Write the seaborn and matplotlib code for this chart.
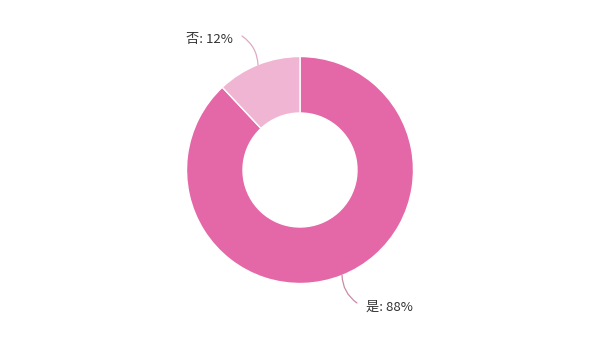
import matplotlib
matplotlib.use("Agg")
import matplotlib.pyplot as plt
import seaborn as sns

labels = ["是", "否"]
values = [88, 12]
colors = ["#E468A7", "#F0B5D3"]

sns.set_theme(style="white")
plt.rcParams['font.family'] = ['Noto Sans CJK SC', 'DejaVu Sans']

fig = plt.figure(figsize=(6, 3.4), dpi=100)
ax = fig.add_axes([0, 0, 1, 1])

wedges, _ = ax.pie(values, colors=colors, startangle=90, counterclock=False,
                   radius=1.135, center=(0, 0), frame=True,
                   wedgeprops=dict(width=0.565, edgecolor='white', linewidth=1.0))
ax.set_xlim(-3, 3)
ax.set_ylim(-1.7, 1.7)
ax.set_aspect('equal')
ax.axis('off')

def px(x, y):
    return ((x - 300) / 100.0, (170 - y) / 100.0)

total = sum(values)
label_cfg = {
    "是": dict(start=(342, 275), end=(357, 303), text=(366, 307), ha='left', rad=0.25,
              lc="#C98AA8"),
    "否": dict(start=(258, 65), end=(242, 36), text=(233, 39), ha='right', rad=0.25,
              lc="#E0A9C4"),
}
for lab, val in zip(labels, values):
    cfg = label_cfg[lab]
    ax.annotate("", xy=px(*cfg['end']), xytext=px(*cfg['start']),
                arrowprops=dict(arrowstyle='-', color=cfg['lc'], lw=0.9,
                                connectionstyle=f"arc3,rad={cfg['rad']}",
                                shrinkA=0, shrinkB=0))
    pct = round(val / total * 100)
    ax.text(*px(*cfg['text']), f"{lab}: {pct}%", ha=cfg['ha'], va='center',
            fontsize=9.5, color='#333333')

fig.savefig("out.png", dpi=100)
